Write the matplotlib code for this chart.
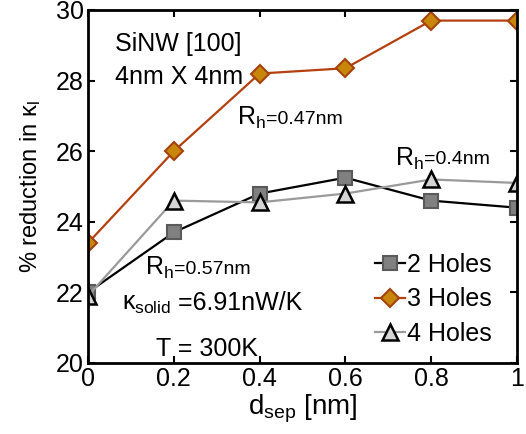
import matplotlib
matplotlib.use("Agg")
import matplotlib.pyplot as plt

# data
d_sep = [0.0, 0.2, 0.4, 0.6, 0.8, 1.0]
holes2 = [22.0, 23.7, 24.8, 25.25, 24.6, 24.4]
holes3 = [23.4, 26.0, 28.2, 28.35, 29.7, 29.7]
holes4 = [21.9, 24.6, 24.55, 24.8, 25.2, 25.1]
labels = ["2 Holes", "3 Holes", "4 Holes"]

plt.rcParams['font.family'] = ['Liberation Sans', 'DejaVu Sans']
plt.rcParams['mathtext.fontset'] = 'custom'
plt.rcParams['mathtext.rm'] = 'Liberation Sans'
plt.rcParams['mathtext.it'] = 'Liberation Sans'

fig = plt.figure(figsize=(5.26, 4.34), dpi=100)
ax = fig.add_axes([88 / 526, 71 / 434, 429 / 526, 353 / 434])

ax.plot(d_sep, holes2, color='black', lw=1.6, marker='s', markersize=10,
        markerfacecolor='#808080', markeredgecolor='#5a5a5a', markeredgewidth=1.5,
        label=labels[0])
ax.plot(d_sep, holes3, color='#b5400f', lw=1.6, marker='D', markersize=9,
        markerfacecolor='#c8860a', markeredgecolor='#a3420c', markeredgewidth=1.5,
        label=labels[1])
ax.plot(d_sep, holes4, color='#9a9a9a', lw=1.6, marker='^', markersize=11,
        markerfacecolor='#d4d4d4', markeredgecolor='black', markeredgewidth=1.8,
        label=labels[2])

ax.set_xlim(0, 1)
ax.set_ylim(20, 30)
ax.set_xticks([0, 0.2, 0.4, 0.6, 0.8, 1])
ax.set_xticklabels(['0', '0.2', '0.4', '0.6', '0.8', '1'])
ax.set_yticks([20, 22, 24, 26, 28, 30])
ax.tick_params(direction='in', top=True, right=True, length=5, width=1.5,
               labelsize=18, pad=3)
for s in ax.spines.values():
    s.set_linewidth(2)

ax.set_xlabel(r'd$_{\rm sep}$ [nm]', fontsize=20, labelpad=1)
ax.set_ylabel(r'% reduction in $\kappa_{\rm l}$', fontsize=17, labelpad=9)


def label_pair(x, y, main, tail, size_main=18, size_tail=14):
    # big symbol with subscript, followed directly by smaller text
    t = ax.text(x, y, main, fontsize=size_main)
    ax.annotate(tail, xy=(1.0, 0.28), xycoords=t, fontsize=size_tail,
                va='baseline', ha='left')


ax.text(0.063, 28.85, 'SiNW [100]', fontsize=18)
ax.text(0.063, 27.9, '4nm X 4nm', fontsize=18)
label_pair(0.347, 26.75, r'R$_{\rm h}$', '=0.47nm')
label_pair(0.716, 25.6, r'R$_{\rm h}$', '=0.4nm')
label_pair(0.133, 22.5, r'R$_{\rm h}$', '=0.57nm')
label_pair(0.079, 21.5, r'$\kappa_{\rm solid}$', ' =6.91nW/K', size_tail=18)
ax.text(0.158, 20.2, 'T = 300K', fontsize=18)

ax.legend(loc='lower right', bbox_to_anchor=(0.965, 0.02), frameon=False,
          fontsize=18, handlelength=1.2, handletextpad=0.1, labelspacing=0.42,
          borderaxespad=0)

fig.savefig('out.png', dpi=100)
